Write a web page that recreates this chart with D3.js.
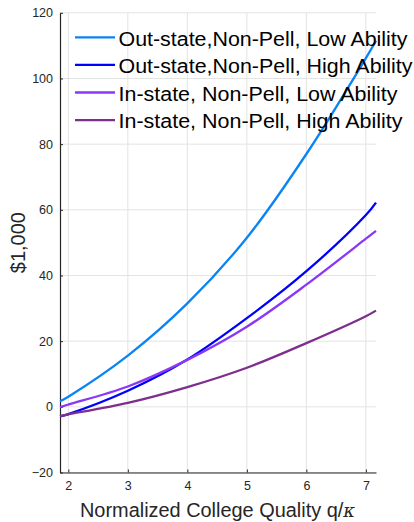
<!DOCTYPE html>
<html><head><meta charset="utf-8">
<script src="https://cdn.jsdelivr.net/npm/d3@7"></script>
<style>body{margin:0;background:#fff}svg{display:block}</style>
</head><body><svg id="c" width="414" height="522" font-family="'Liberation Sans', Arial, sans-serif"></svg>
<script>
const xValues = [1.86, 2, 3, 4, 5, 6, 7, 7.17];
const outLow  = [1.7, 3.1, 15.6, 31.5, 51.5, 77.0, 106.2, 111.5];
const outHigh = [-2.9, -2.2, 4.9, 14.4, 27.0, 41.3, 58.4, 62.2];
const inLow   = [-0.1, 0.7, 6.2, 14.3, 24.4, 37.2, 51.2, 53.6];
const inHigh  = [-2.8, -2.3, 1.2, 6.0, 11.9, 19.4, 27.6, 29.3];
const seriesNames = ["Out-state,Non-Pell, Low Ability","Out-state,Non-Pell, High Ability","In-state, Non-Pell, Low Ability","In-state, Non-Pell, High Ability"];
const seriesColors = ["#0a84f5","#0000ff","#8a38f5","#7e2f8e"];
const xTicks = [2,3,4,5,6,7];
const yTicks = [-20,0,20,40,60,80,100,120];

const series = [outLow, outHigh, inLow, inHigh];
const FONT = "'Liberation Sans', Arial, sans-serif";
const svg = d3.select("#c");
const x = d3.scaleLinear().domain([1.86, 7.17]).range([60, 376]);
const y = d3.scaleLinear().domain([-20, 120]).range([472.5, 12.8]);

const g = svg.append("g");
g.selectAll(".gx").data(xTicks).join("line")
  .attr("x1", d=>x(d)).attr("x2", d=>x(d)).attr("y1", y(-20)).attr("y2", y(120))
  .attr("stroke", "#e3e3e3").attr("stroke-width", 1);
g.selectAll(".gy").data(yTicks).join("line")
  .attr("x1", x(1.86)).attr("x2", x(7.17)).attr("y1", d=>y(d)).attr("y2", d=>y(d))
  .attr("stroke", "#e3e3e3").attr("stroke-width", 1);

const xAxis = d3.axisBottom(x).tickValues(xTicks).tickSizeInner(-3).tickSizeOuter(0).tickPadding(9).tickFormat(d3.format("d"));
const yAxis = d3.axisLeft(y).tickValues(yTicks).tickSizeInner(-3).tickSizeOuter(0).tickPadding(7).tickFormat(d3.format("d"));
const ax = svg.append("g").attr("transform", `translate(0,${y(-20)})`).call(xAxis);
const ay = svg.append("g").attr("transform", `translate(${x(1.86)},0)`).call(yAxis);
[ax, ay].forEach(a => {
  a.attr("font-family", FONT).attr("font-size", 12.5);
  a.select(".domain").attr("stroke", "#262626").attr("stroke-width", 1.2);
  a.selectAll(".tick line").attr("stroke", "#262626");
  a.selectAll(".tick text").attr("fill", "#262626");
});

const line = d3.line().x(d=>x(d[0])).y(d=>y(d[1])).curve(d3.curveCatmullRom.alpha(0.5));
series.forEach((s, i) => {
  svg.append("path").datum(xValues.map((xv, j) => [xv, s[j]]))
    .attr("d", line).attr("fill", "none").attr("stroke", seriesColors[i])
    .attr("stroke-width", 2.3);
});

const legendWidths = [289, 294, 279, 284];
const lg = svg.append("g");
seriesNames.forEach((n, i) => {
  const yy = 37.3 + i * 27.6;
  lg.append("line").attr("x1", 75).attr("x2", 115).attr("y1", yy).attr("y2", yy)
    .attr("stroke", seriesColors[i]).attr("stroke-width", 2.3);
  lg.append("text").attr("x", 118.5).attr("y", yy + 8.3).text(n)
    .attr("fill", "#000").attr("font-family", FONT).attr("font-size", 20)
    .attr("textLength", legendWidths[i]).attr("lengthAdjust", "spacingAndGlyphs");
});

svg.append("text").attr("transform", `translate(24.5,${y(50)}) rotate(-90)`)
  .attr("text-anchor", "middle").attr("fill", "#262626").attr("font-family", FONT).attr("font-size", 20).text("$1,000");
const xl = svg.append("text").attr("x", 80).attr("y", 517)
  .attr("fill", "#262626").attr("font-family", FONT).attr("font-size", 20)
  .attr("textLength", 275).attr("lengthAdjust", "spacingAndGlyphs");
xl.append("tspan").text("Normalized College Quality q/");
xl.append("tspan").attr("font-style", "italic").attr("font-family", "'DejaVu Serif', serif").attr("font-size", 18).text("κ");
</script></body></html>
